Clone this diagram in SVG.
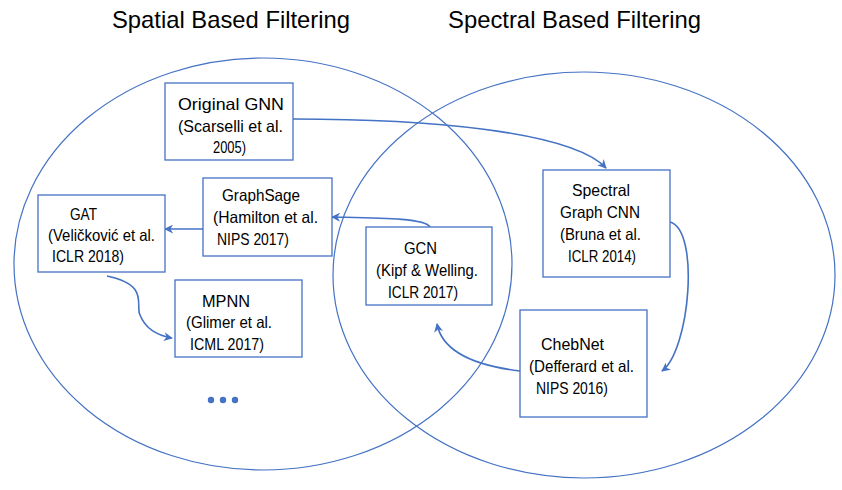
<svg xmlns="http://www.w3.org/2000/svg" width="842" height="490" viewBox="0 0 842 490">
<defs>
<style>
.venn{fill:none;stroke:#4472C4;stroke-width:1.2}
.box{fill:#fff;stroke:#4472C4;stroke-width:1.3}
.t{font-family:"Liberation Sans",Arial,sans-serif;font-size:16.5px;fill:#000}
.title{font-family:"Liberation Sans",Arial,sans-serif;font-size:24px;fill:#000}
.c{fill:none;stroke:#4472C4;stroke-width:1.6}
</style>
<marker id="ah" viewBox="0 0 10 10" refX="9" refY="5" markerWidth="9" markerHeight="9" markerUnits="userSpaceOnUse" orient="auto">
<path d="M0,0 L10,5 L0,10 L3,5 z" fill="#4472C4"/>
</marker>
</defs>
<rect width="842" height="490" fill="#fff"/>
<text class="title" x="112" y="28" textLength="238" lengthAdjust="spacingAndGlyphs">Spatial Based Filtering</text>
<text class="title" x="448" y="28" textLength="253" lengthAdjust="spacingAndGlyphs">Spectral Based Filtering</text>
<g id="venn">
<ellipse class="venn" cx="263" cy="264" rx="249" ry="206"/>
<ellipse class="venn" cx="584" cy="275" rx="251" ry="203"/>
</g>
<g id="connectors">
<path class="c" d="M293,119 C420,119 570,130 606,168" marker-end="url(#ah)"/>
<path class="c" d="M430,227 C425,218 380,218 332,217" marker-end="url(#ah)"/>
<path class="c" d="M203,229 L165,229" marker-end="url(#ah)"/>
<path class="c" d="M107,276 C150,285 135,305 140,315 C146,330 160,336 172,338" marker-end="url(#ah)"/>
<path class="c" d="M670,222 C700,230 690,350 662,371" marker-end="url(#ah)"/>
<path class="c" d="M520,371 C470,365 442,350 437,324" marker-end="url(#ah)"/>
</g>
<g id="original-gnn">
<rect class="box" x="165" y="83" width="128" height="77"/>
<text class="t" x="178" y="110" textLength="106" lengthAdjust="spacingAndGlyphs">Original GNN</text>
<text class="t" x="178" y="132" textLength="105" lengthAdjust="spacingAndGlyphs">(Scarselli et al.</text>
<text class="t" x="213" y="153" textLength="33" lengthAdjust="spacingAndGlyphs">2005)</text>
</g>
<g id="graphsage">
<rect class="box" x="203" y="178" width="129" height="78"/>
<text class="t" x="222" y="201" textLength="78" lengthAdjust="spacingAndGlyphs">GraphSage</text>
<text class="t" x="213" y="223" textLength="105" lengthAdjust="spacingAndGlyphs">(Hamilton et al.</text>
<text class="t" x="217" y="245" textLength="72" lengthAdjust="spacingAndGlyphs">NIPS 2017)</text>
</g>
<g id="gat">
<rect class="box" x="38" y="195" width="127" height="77"/>
<text class="t" x="70" y="220" textLength="27" lengthAdjust="spacingAndGlyphs">GAT</text>
<text class="t" x="48" y="241" textLength="107" lengthAdjust="spacingAndGlyphs">(Veličković et al.</text>
<text class="t" x="52" y="262" textLength="72" lengthAdjust="spacingAndGlyphs">ICLR 2018)</text>
</g>
<g id="mpnn">
<rect class="box" x="175" y="280" width="127" height="77"/>
<text class="t" x="202" y="307" textLength="48" lengthAdjust="spacingAndGlyphs">MPNN</text>
<text class="t" x="186" y="328" textLength="86" lengthAdjust="spacingAndGlyphs">(Glimer et al.</text>
<text class="t" x="190" y="350" textLength="74" lengthAdjust="spacingAndGlyphs">ICML 2017)</text>
</g>
<g id="gcn">
<rect class="box" x="366" y="227" width="126" height="78"/>
<text class="t" x="404" y="254" textLength="33" lengthAdjust="spacingAndGlyphs">GCN</text>
<text class="t" x="376" y="276" textLength="102" lengthAdjust="spacingAndGlyphs">(Kipf &amp; Welling.</text>
<text class="t" x="388" y="298" textLength="70" lengthAdjust="spacingAndGlyphs">ICLR 2017)</text>
</g>
<g id="spectral-graph-cnn">
<rect class="box" x="543" y="170" width="127" height="107"/>
<text class="t" x="572" y="196" textLength="58" lengthAdjust="spacingAndGlyphs">Spectral</text>
<text class="t" x="560" y="218" textLength="80" lengthAdjust="spacingAndGlyphs">Graph CNN</text>
<text class="t" x="560" y="240" textLength="81" lengthAdjust="spacingAndGlyphs">(Bruna et al.</text>
<text class="t" x="568" y="262" textLength="68" lengthAdjust="spacingAndGlyphs">ICLR 2014)</text>
</g>
<g id="chebnet">
<rect class="box" x="520" y="310" width="127" height="107"/>
<text class="t" x="541" y="350" textLength="63" lengthAdjust="spacingAndGlyphs">ChebNet</text>
<text class="t" x="529" y="372" textLength="105" lengthAdjust="spacingAndGlyphs">(Defferard et al.</text>
<text class="t" x="536" y="394" textLength="72" lengthAdjust="spacingAndGlyphs">NIPS 2016)</text>
</g>
<g id="ellipsis" fill="#4472C4">
<circle cx="211" cy="400" r="3.2"/>
<circle cx="223" cy="400" r="3.2"/>
<circle cx="235" cy="400" r="3.2"/>
</g>
</svg>
